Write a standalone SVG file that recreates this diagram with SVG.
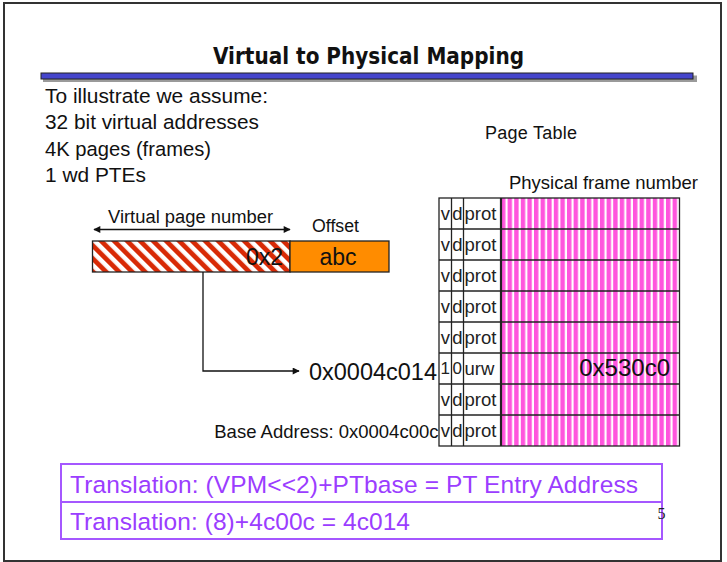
<svg xmlns="http://www.w3.org/2000/svg" width="727" height="562" viewBox="0 0 727 562">
  <style>
    .t { font-family: "Liberation Sans", Arial, sans-serif; fill: #111; }
    .cell { font-family: "Liberation Sans", Arial, sans-serif; font-size: 18.5px; fill: #222; }
    .grid { stroke: #222; stroke-width: 1.3; fill: none; }
    .conn { stroke: #111; stroke-width: 1.3; fill: none; }
    .trans { font-family: "Liberation Sans", Arial, sans-serif; font-size: 24.5px; fill: #9b3dff; }
    .tbox { fill: #fff; stroke: #a557ff; stroke-width: 2; }
  </style>
  <defs>
    <!-- diagonal red hatching for the virtual page number field -->
    <pattern id="redStripes" patternUnits="userSpaceOnUse" width="9.2" height="9.2" patternTransform="rotate(-45)">
      <rect width="9.2" height="9.2" fill="#ffffff"/>
      <rect width="4.8" height="9.2" fill="#d82a06"/>
    </pattern>
    <!-- vertical pink/white stripes for the physical frame number column -->
    <pattern id="pinkStripes" patternUnits="userSpaceOnUse" x="501" y="0" width="6.6" height="10">
      <rect width="6.6" height="10" fill="#ff55dd"/>
      <rect x="4.4" width="2.2" height="10" fill="#ffffff"/>
    </pattern>
    <marker id="arrow" viewBox="0 0 10 10" refX="9" refY="5" markerWidth="8" markerHeight="7" markerUnits="userSpaceOnUse" orient="auto-start-reverse">
      <path d="M0,0 L10,5 L0,10 z" fill="#111"/>
    </marker>
  </defs>

  <!-- page background and frame -->
  <rect x="0" y="0" width="727" height="562" fill="#ffffff"/>
  <rect x="4" y="3" width="717" height="558" fill="none" stroke="#333" stroke-width="2"/>

  <!-- heading -->
  <g id="title">
    <text x="213" y="64" textLength="311" lengthAdjust="spacingAndGlyphs" font-family="DejaVu Sans Condensed, DejaVu Sans, sans-serif" font-weight="bold" font-size="23" fill="#111">Virtual to Physical Mapping</text>
    <rect x="43" y="75.5" width="654" height="6.5" fill="#9a9a9a"/>
    <rect x="41" y="73" width="652" height="6" fill="#4646cc" stroke="#222" stroke-width="1"/>
  </g>

  <!-- assumptions list -->
  <g id="assumptions" class="t" font-size="20.5">
    <text x="45" y="102.5" textLength="223" lengthAdjust="spacingAndGlyphs">To illustrate we assume:</text>
    <text x="45" y="129" textLength="214" lengthAdjust="spacingAndGlyphs">32 bit virtual addresses</text>
    <text x="45" y="155.5" textLength="166" lengthAdjust="spacingAndGlyphs">4K pages (frames)</text>
    <text x="45" y="182" textLength="101" lengthAdjust="spacingAndGlyphs">1 wd PTEs</text>
  </g>

  <!-- virtual address split into page number and offset -->
  <g id="virtual-address">
    <text class="t" x="108" y="223" font-size="18" textLength="165" lengthAdjust="spacingAndGlyphs">Virtual page number</text>
    <text class="t" x="312" y="232" font-size="17.5" textLength="47" lengthAdjust="spacingAndGlyphs">Offset</text>
    <rect x="92.5" y="241" width="197.5" height="31" fill="url(#redStripes)" stroke="#222" stroke-width="1.3"/>
    <rect x="290" y="241" width="99" height="31" fill="#ff8c00" stroke="#222" stroke-width="1.3"/>
    <text class="t" x="283" y="265" font-size="23" text-anchor="end">0x2</text>
    <text class="t" x="338" y="265" font-size="23" text-anchor="middle">abc</text>
  </g>

  <!-- page table -->
  <g id="page-table">
    <text class="t" x="485" y="139" font-size="18" textLength="92">Page Table</text>
    <text class="t" x="509" y="189" font-size="18.5" textLength="189">Physical frame number</text>
    <rect x="501" y="198" width="178.5" height="248" fill="url(#pinkStripes)"/>
    <rect x="439" y="198" width="240.5" height="248" class="grid"/>
    <g class="grid">
      <line x1="451.5" y1="198" x2="451.5" y2="446"/>
      <line x1="463.5" y1="198" x2="463.5" y2="446"/>
      <line x1="501" y1="198" x2="501" y2="446" stroke-width="2.2"/>
      <line x1="439" y1="229" x2="679.5" y2="229"/>
      <line x1="439" y1="260" x2="679.5" y2="260"/>
      <line x1="439" y1="291" x2="679.5" y2="291"/>
      <line x1="439" y1="322" x2="679.5" y2="322"/>
      <line x1="439" y1="353" x2="679.5" y2="353"/>
      <line x1="439" y1="384" x2="679.5" y2="384"/>
      <line x1="439" y1="415" x2="679.5" y2="415"/>
    </g>
    <g id="pte-rows" class="cell">
      <text x="445.3" y="219.5" text-anchor="middle">v</text><text x="457.5" y="219.5" text-anchor="middle">d</text><text x="464.5" y="219.5">prot</text>
      <text x="445.3" y="250.5" text-anchor="middle">v</text><text x="457.5" y="250.5" text-anchor="middle">d</text><text x="464.5" y="250.5">prot</text>
      <text x="445.3" y="281.5" text-anchor="middle">v</text><text x="457.5" y="281.5" text-anchor="middle">d</text><text x="464.5" y="281.5">prot</text>
      <text x="445.3" y="312.5" text-anchor="middle">v</text><text x="457.5" y="312.5" text-anchor="middle">d</text><text x="464.5" y="312.5">prot</text>
      <text x="445.3" y="343.5" text-anchor="middle">v</text><text x="457.5" y="343.5" text-anchor="middle">d</text><text x="464.5" y="343.5">prot</text>
      <text x="445.3" y="373.5" text-anchor="middle" font-size="17">1</text><text x="457.3" y="373.5" text-anchor="middle" font-size="17">0</text><text x="464.5" y="374.5">urw</text>
      <text x="445.3" y="405.5" text-anchor="middle">v</text><text x="457.5" y="405.5" text-anchor="middle">d</text><text x="464.5" y="405.5">prot</text>
      <text x="445.3" y="436.5" text-anchor="middle">v</text><text x="457.5" y="436.5" text-anchor="middle">d</text><text x="464.5" y="436.5">prot</text>
    </g>
    <text class="t" x="670" y="376" font-size="24" text-anchor="end">0x530c0</text>
  </g>

  <!-- addresses beside the table -->
  <g id="addresses">
    <text class="t" x="437" y="380" font-size="23.5" text-anchor="end">0x0004c014</text>
    <text class="t" x="438.5" y="437.5" font-size="18.5" text-anchor="end">Base Address: 0x0004c00c</text>
  </g>

  <!-- connectors -->
  <g id="connectors">
    <line class="conn" x1="94" y1="229.5" x2="290" y2="229.5" marker-start="url(#arrow)" marker-end="url(#arrow)"/>
    <path class="conn" d="M203,272 V371 H299" marker-end="url(#arrow)"/>
  </g>

  <!-- translation formulas -->
  <g id="translation">
    <rect class="tbox" x="61" y="464" width="601" height="38"/>
    <rect class="tbox" x="61" y="502" width="601" height="37"/>
    <text class="trans" x="70" y="492.5" textLength="568">Translation: (VPM&lt;&lt;2)+PTbase = PT Entry Address</text>
    <text class="trans" x="70" y="529.5" textLength="340">Translation: (8)+4c00c = 4c014</text>
  </g>

  <!-- slide number -->
  <g id="page-number">
    <text x="657.5" y="519" font-family="Liberation Serif, serif" font-size="16" fill="#222">5</text>
  </g>
</svg>
